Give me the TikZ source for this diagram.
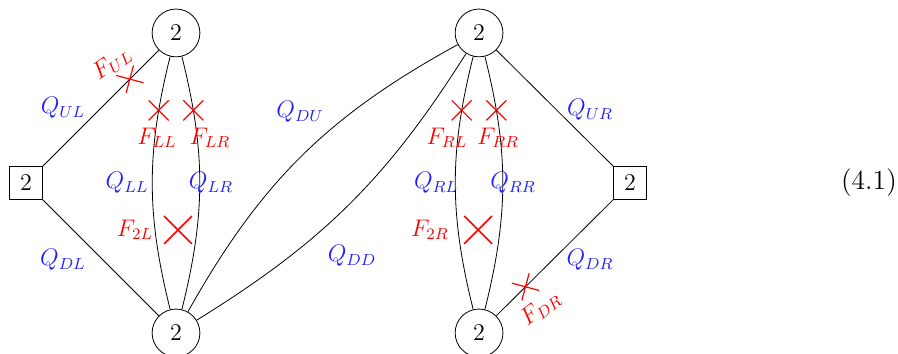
\documentclass[tikz,border=0pt]{standalone}
\usepackage{tikz}
\usetikzlibrary{shapes.misc,positioning}
\definecolor{qblue}{HTML}{2020FF}
\definecolor{fred}{HTML}{FF0000}
\tikzset{
  gauge/.style={draw, circle, minimum size=0.84cm, inner sep=0pt},
  flavor/.style={draw, rectangle, minimum size=0.58cm, inner sep=0pt},
  qlab/.style={text=qblue},
  flab/.style={text=fred},
  cut/.style={draw=fred, cross out, semithick, minimum size=0.33cm, inner sep=0pt},
  bigcut/.style={cut, thick, minimum size=0.46cm}
}
\begin{document}
\begin{tikzpicture}[x=1cm,y=1cm,font=\large]
\useasboundingbox (0,0) rectangle (15.78,6.22);
% gauge and flavour nodes
\node[flavor] (L) at (0.457,3.005) {2};
\node[gauge] (TL) at (3.093,5.641) {2};
\node[gauge] (BL) at (3.093,0.369) {2};
\node[gauge] (TR) at (8.418,5.641) {2};
\node[gauge] (BR) at (8.418,0.369) {2};
\node[flavor] (R) at (11.072,3.005) {2};
% links
\draw (L) -- node[cut, rotate=30, pos=0.75] (xUL) {} (TL);
\draw (L) -- (BL);
\draw (TL) to[bend right=14] node[cut, pos=0.2] (xLL) {} (BL);
\draw (TL) to[bend left=14] node[cut, pos=0.2] (xLR) {} (BL);
\draw (BL) to[bend left=16] (TR);
\draw (BL) to[bend right=13] (TR);
\draw (TR) to[bend right=14] node[cut, pos=0.2] (xRL) {} (BR);
\draw (TR) to[bend left=14] node[cut, pos=0.2] (xRR) {} (BR);
\draw (TR) -- (R);
\draw (R) -- node[cut, rotate=30, pos=0.75] (xDR) {} (BR);
\node[bigcut] (x2L) at (3.128,2.179) {};
\node[bigcut] (x2R) at (8.401,2.179) {};
% labels
\node[qlab] (qUL) at (1.107,4.323) {$Q_{UL}$};
\node[qlab] (qDL) at (1.107,1.652) {$Q_{DL}$};
\node[qlab] (qLL) at (2.232,3.005) {$Q_{LL}$};
\node[qlab] (qLR) at (3.708,3.005) {$Q_{LR}$};
\node[qlab] (qDU) at (5.273,4.253) {$Q_{DU}$};
\node[qlab] (qDD) at (6.186,1.722) {$Q_{DD}$};
\node[qlab] (qRL) at (7.663,3.005) {$Q_{RL}$};
\node[qlab] (qRR) at (9.016,3.005) {$Q_{RR}$};
\node[qlab] (qUR) at (10.369,4.288) {$Q_{UR}$};
\node[qlab] (qDR) at (10.369,1.652) {$Q_{DR}$};
\node[flab, rotate=35] (fUL) at (1.97,5.11) {$F_{UL}$};
\node[flab] (fLL) at (2.759,3.796) {$F_{LL}$};
\node[flab] (fLR) at (3.691,3.796) {$F_{LR}$};
\node[flab] (f2L) at (2.373,2.179) {$F_{2L}$};
\node[flab] (fRL) at (7.856,3.796) {$F_{RL}$};
\node[flab] (fRR) at (8.752,3.796) {$F_{RR}$};
\node[flab] (f2R) at (7.557,2.179) {$F_{2R}$};
\node[flab, rotate=38] (fDR) at (9.50,0.80) {$F_{DR}$};
\node[font=\fontsize{13.8}{16}\selectfont] (eqnum) at (15.27,3.005) {(4.1)};
\end{tikzpicture}
\end{document}
